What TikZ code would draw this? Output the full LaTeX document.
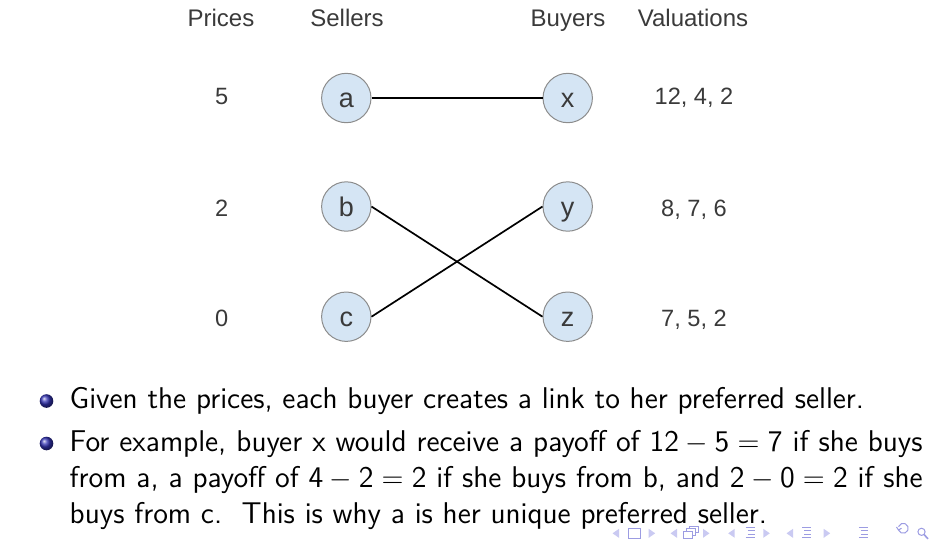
\documentclass[tikz,border=0pt]{standalone}
\usepackage{fontspec}
\newfontfamily\arial{Liberation Sans}
\definecolor{nodefill}{HTML}{D5E5F4}
\definecolor{nodeedge}{HTML}{8C8C8C}
\definecolor{labgray}{HTML}{3A3A3A}
\definecolor{structfg}{rgb}{0.2,0.2,0.7}
\definecolor{navc}{HTML}{9C9CE2}
\definecolor{navl}{HTML}{CACAF2}
\begin{document}
\begin{tikzpicture}[x=0.5pt,y=-0.5pt,
  agent/.style={circle, draw=nodeedge, fill=nodefill, line width=0.5pt, minimum size=24.7pt, inner sep=0pt},
  agentlab/.style={anchor=base, inner sep=0pt, text=labgray, font=\arial\fontsize{13.5}{16}\selectfont},
  head/.style={anchor=base, inner sep=0pt, text=labgray, font=\arial\fontsize{12}{14}\selectfont},
  num/.style={anchor=base, inner sep=0pt, text=labgray, font=\arial\fontsize{11.8}{14}\selectfont},
  link/.style={line width=0.85pt, black},
  body/.style={anchor=base west, inner sep=0pt, font=\sffamily\fontsize{15}{18}\selectfont},
  bul/.style={circle, inner sep=0pt, minimum size=6.8pt, ball color=structfg},
  navtri/.style={fill=navl, draw=none},
  navicon/.style={draw=navc, line width=0.5pt},
]
\useasboundingbox (0,0) rectangle (932,543);

% headers
\node[head] (hp) at (221,26.7) {Prices};
\node[head] (hs) at (347,26.7) {Sellers};
\node[head] (hb) at (568,26.7) {Buyers};
\node[head] (hv) at (693,26.7) {Valuations};

% agents
\node[agent] (a) at (346.3,98) {};
\node[agent] (b) at (346.3,206.5) {};
\node[agent] (c) at (346.3,316.7) {};
\node[agent] (x) at (567.7,98) {};
\node[agent] (y) at (567.7,206.5) {};
\node[agent] (z) at (567.7,316.7) {};
\node[agentlab] (la) at (346.3,107.3) {a};
\node[agentlab] (lb) at (346.3,216) {b};
\node[agentlab] (lc) at (346.3,326.2) {c};
\node[agentlab] (lx) at (567.7,107.3) {x};
\node[agentlab] (ly) at (567.7,216) {y};
\node[agentlab] (lz) at (567.7,326.2) {z};

% prices and valuations
\node[num] (p5) at (221.7,104) {5};
\node[num] (p2) at (221.7,216) {2};
\node[num] (p0) at (221.7,326) {0};
\node[num] (v1) at (694,104.3) {12, 4, 2};
\node[num] (v2) at (694,216) {8, 7, 6};
\node[num] (v3) at (694,326) {7, 5, 2};

% links
\draw[link] (a.east) -- (x.west);
\draw[link] (b.east) -- (z.west);
\draw[link] (c.east) -- (y.west);

% bullets and text
\node[bul] (b1) at (46.5,401) {};
\node[bul] (b2) at (46.5,443.5) {};
\node[body] (t1) at (69.3,408.5) {Given the prices, each buyer creates a link to her preferred seller.};
\node[body] (t2) at (69.3,451.5) {\hbox to 426.5pt{For example, buyer x would receive a payoff of $\mathsf{12}-\mathsf{5}=\mathsf{7}$ if she buys}};
\node[body] (t3) at (69.3,487.5) {\hbox to 426.5pt{from a, a payoff of $\mathsf{4}-\mathsf{2}=\mathsf{2}$ if she buys from b, and $\mathsf{2}-\mathsf{0}=\mathsf{2}$ if she}};
\node[body] (t4) at (69.3,523.2) {buys from c.\ \ This is why a is her unique preferred seller.};

% navigation symbols
\foreach \px in {616,674,731.7,790} {
  \fill[navtri] (\px+3,528.8) -- (\px-3.5,533.3) -- (\px+3,537.8) -- cycle;
}
\foreach \px in {651.7,706,766.3,826.7} {
  \fill[navtri] (\px-3,528.8) -- (\px+3.5,533.3) -- (\px-3,537.8) -- cycle;
}
\draw[navicon] (628.5,528.5) rectangle (640.5,538);
\draw[navicon, fill=white] (689,526) rectangle (698,532.5);
\draw[navicon, fill=white] (686,528.8) rectangle (695,535.3);
\draw[navicon, fill=white] (683,531.6) rectangle (692,538.1);
\foreach \cx in {750,806.7,863.3} {
  \draw[navicon] (\cx-4.5,527.5) -- (\cx+4.5,527.5);
  \draw[navicon] (\cx-2.5,530.8) -- (\cx+4.5,530.8);
  \draw[navicon] (\cx-2.5,534.1) -- (\cx+4.5,534.1);
  \draw[navicon] (\cx-4.5,537.8) -- (\cx+4.5,537.8);
}
\draw[navicon] (898.5,530) arc[start angle=160, end angle=-160, radius=5];
\draw[navicon] (896.5,527) -- (898.5,530) -- (901.5,528.2);
\draw[navicon] (921.5,531.8) circle[radius=3.6];
\draw[navicon, line width=0.8pt] (924,534.5) -- (928,538.8);
\end{tikzpicture}
\end{document}
